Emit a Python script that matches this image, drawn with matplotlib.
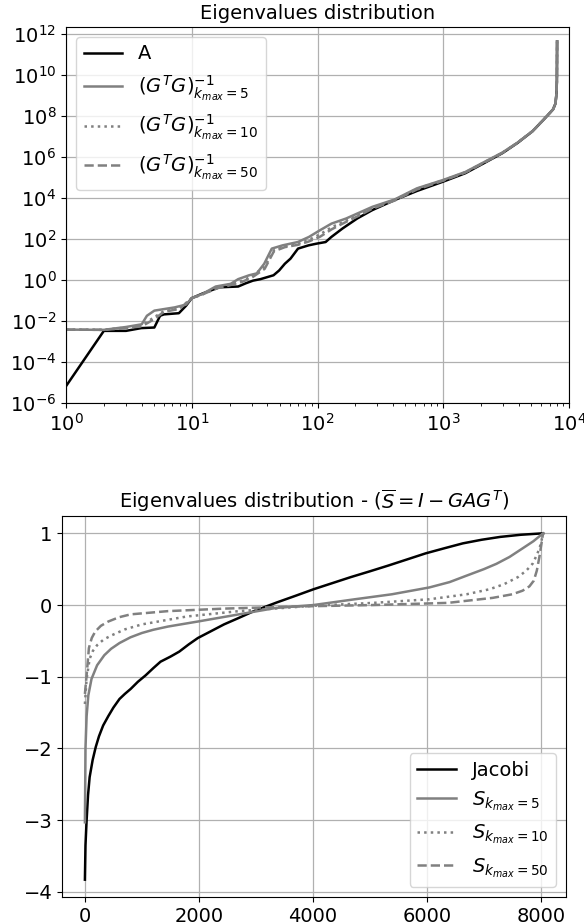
import matplotlib
matplotlib.use("Agg")
import matplotlib.pyplot as plt
import numpy as np

plt.rcParams['font.size'] = 14

# ---- top panel data (index, eigenvalue) ----
a_x = [1, 2, 3, 3.97, 5.04, 5.6, 6, 7.9, 9, 10, 12.2, 16.6, 23.4, 26.9, 30.7, 35.2,
       44.7, 49.5, 55, 61, 70, 85, 98, 116, 129, 158, 207, 273, 411, 617, 1000,
       1500, 2110, 2960, 3890, 5120, 6310, 7470, 7800, 7950, 8010, 8041]
a_y = [6.6e-6, 3.3e-3, 3.3e-3, 4.5e-3, 4.8e-3, 1.8e-2, 2.1e-2, 2.4e-2, 5.5e-2, 0.13,
       0.22, 0.44, 0.48, 0.69, 0.93, 1.1, 1.7, 2.9, 6.2, 11, 34, 49, 59, 71, 126, 324,
       1000, 2570, 7940, 2.19e4, 6.3e4, 1.62e5, 5.0e5, 1.55e6, 4.8e6, 1.78e7, 6.8e7,
       2.1e8, 4e8, 1.2e9, 5e9, 4.4e11]

g5_x = [1, 2, 3, 4, 4.4, 5.04, 6, 7.3, 9, 10, 12.2, 15.5, 20.4, 23.4, 28.6, 32.9, 37.7,
        43.3, 52.8, 69.7, 85.5, 105, 129, 169, 207, 273, 411, 617, 1000, 1500, 2110,
        2960, 3890, 5120, 6310, 7470, 7800, 7950, 8010, 8041]
g5_y = [3.8e-3, 3.7e-3, 5.1e-3, 6.9e-3, 1.8e-2, 3.2e-2, 3.8e-2, 4.6e-2, 6.3e-2, 0.13,
        0.21, 0.48, 0.65, 1.1, 1.7, 2.1, 6.2, 34, 49, 71, 126, 270, 560, 1000, 1740,
        3700, 8500, 2.95e4, 7.6e4, 1.86e5, 5.6e5, 1.66e6, 5.0e6, 1.8e7, 6.8e7, 2.1e8,
        4e8, 1.2e9, 5e9, 4.4e11]

g10_x = [1, 2, 3, 4, 5, 6, 8, 10, 12.2, 16, 20, 25, 30, 38, 45, 55, 70, 85, 105, 130,
         170, 210, 273, 411, 617, 1000, 1500, 2110, 2960, 3890, 5120, 6310, 7470, 7800,
         7950, 8010, 8041]
g10_y = [3.8e-3, 3.7e-3, 4.8e-3, 6.0e-3, 1.5e-2, 3.0e-2, 4.0e-2, 0.13, 0.2, 0.42, 0.6,
         0.9, 1.5, 4.5, 28, 42, 58, 90, 170, 380, 800, 1500, 3300, 8000, 2.8e4, 7.3e4,
         1.8e5, 5.4e5, 1.6e6, 4.9e6, 1.8e7, 6.8e7, 2.1e8, 4e8, 1.2e9, 5e9, 4.4e11]

g50_x = [1, 2, 3, 4, 5, 6, 8, 10, 12.2, 16, 20, 25, 30, 38, 45, 55, 70, 85, 105, 130,
         170, 210, 273, 411, 617, 1000, 1500, 2110, 2960, 3890, 5120, 6310, 7470, 7800,
         7950, 8010, 8041]
g50_y = [3.8e-3, 3.7e-3, 4.5e-3, 5.5e-3, 1.2e-2, 2.8e-2, 3.9e-2, 0.13, 0.2, 0.4, 0.55,
         0.8, 1.3, 3.5, 25, 40, 52, 75, 130, 300, 700, 1300, 3000, 7500, 2.6e4, 7.0e4,
         1.75e5, 5.3e5, 1.6e6, 4.9e6, 1.8e7, 6.8e7, 2.1e8, 4e8, 1.2e9, 5e9, 4.4e11]

top_labels = ['A', r'$(G^TG)^{-1}_{k_{max}=5}$', r'$(G^TG)^{-1}_{k_{max}=10}$',
              r'$(G^TG)^{-1}_{k_{max}=50}$']

# ---- bottom panel data ----
jac_x = [0, 10, 30, 55, 83, 136, 190, 247, 320, 410, 500, 607, 700, 803, 930, 1066,
         1200, 1327, 1500, 1655, 1820, 1982, 2200, 2441, 2700, 2965, 3357, 3700, 4012,
         4340, 4668, 5000, 5322, 5650, 5977, 6300, 6632, 6960, 7287, 7650, 8040]
jac_y = [-3.83, -3.35, -3.0, -2.65, -2.40, -2.16, -1.98, -1.83, -1.68, -1.55, -1.43,
         -1.31, -1.24, -1.17, -1.07, -0.98, -0.88, -0.79, -0.72, -0.65, -0.55, -0.46,
         -0.37, -0.27, -0.18, -0.085, 0.033, 0.13, 0.22, 0.305, 0.39, 0.47, 0.55, 0.635,
         0.72, 0.79, 0.86, 0.91, 0.95, 0.98, 1.0]

s5_x = [0, 10, 30, 60, 116, 214, 340, 460, 607, 800, 1000, 1200, 1459, 1982, 2703, 3357,
        4012, 4733, 5387, 6043, 6400, 6698, 7000, 7222, 7450, 7680, 7870, 8040]
s5_y = [-3.03, -2.0, -1.55, -1.26, -1.03, -0.84, -0.70, -0.61, -0.53, -0.45, -0.39,
        -0.345, -0.30, -0.23, -0.13, -0.04, 0.0, 0.08, 0.15, 0.245, 0.32, 0.41, 0.50,
        0.575, 0.67, 0.79, 0.89, 1.0]

s10_x = [0, 30, 83, 140, 214, 330, 476, 700, 1000, 1786, 2703, 4012, 5060, 6043, 6698,
         7100, 7353, 7600, 7746, 7860, 7942, 8000, 8040]
s10_y = [-1.38, -1.03, -0.75, -0.64, -0.56, -0.48, -0.42, -0.34, -0.27, -0.16, -0.085,
         -0.01, 0.03, 0.08, 0.15, 0.22, 0.29, 0.39, 0.48, 0.58, 0.72, 0.85, 1.0]

s50_x = [0, 30, 70, 120, 181, 280, 410, 600, 803, 1459, 2441, 3750, 5060, 6370, 7157,
         7500, 7680, 7800, 7877, 7930, 7975, 8010, 8040]
s50_y = [-1.24, -0.98, -0.60, -0.46, -0.37, -0.29, -0.23, -0.17, -0.13, -0.085, -0.05,
         -0.02, 0.0, 0.03, 0.10, 0.15, 0.20, 0.26, 0.34, 0.48, 0.67, 0.85, 1.0]

bottom_labels = ['Jacobi', r'$S_{k_{max}=5}$', r'$S_{k_{max}=10}$', r'$S_{k_{max}=50}$']

GRAY = '#808080'
LW = 1.8

fig = plt.figure(figsize=(5.84, 9.24), dpi=100)

ax1 = fig.add_axes([66/584, 1-403/924, (569-66)/584, (403-27)/924])
ax1.plot(a_x, a_y, color='black', lw=LW, label=top_labels[0])
ax1.plot(g5_x, g5_y, color=GRAY, lw=LW, label=top_labels[1])
ax1.plot(g10_x, g10_y, color=GRAY, lw=LW, ls=':', label=top_labels[2])
ax1.plot(g50_x, g50_y, color=GRAY, lw=LW, ls='--', label=top_labels[3])
ax1.set_xscale('log')
ax1.set_yscale('log')
ax1.set_xlim(1, 1e4)
ax1.set_ylim(1e-6, 10**12.34)
ax1.set_yticks([10.0**k for k in range(-6, 13, 2)])
ax1.yaxis.set_minor_locator(matplotlib.ticker.NullLocator())
ax1.grid(True, color='#b0b0b0', lw=0.9)
ax1.set_title('Eigenvalues distribution', fontsize=14)
ax1.legend(loc='upper left', fontsize=14)

ax2 = fig.add_axes([62/584, 1-897/924, (566-62)/584, (897-516)/924])
ax2.plot(jac_x, jac_y, color='black', lw=LW, label=bottom_labels[0])
ax2.plot(s5_x, s5_y, color=GRAY, lw=LW, label=bottom_labels[1])
ax2.plot(s10_x, s10_y, color=GRAY, lw=LW, ls=':', label=bottom_labels[2])
ax2.plot(s50_x, s50_y, color=GRAY, lw=LW, ls='--', label=bottom_labels[3])
ax2.set_xticks([0, 2000, 4000, 6000, 8000])
ax2.set_yticks([-4, -3, -2, -1, 0, 1])
ax2.grid(True, color='#b0b0b0', lw=0.9)
ax2.set_title(r'Eigenvalues distribution - ($\overline{S} = I - GAG^T$)', fontsize=14)
ax2.legend(loc='lower right', fontsize=14)

fig.savefig('out.png', dpi=100)
